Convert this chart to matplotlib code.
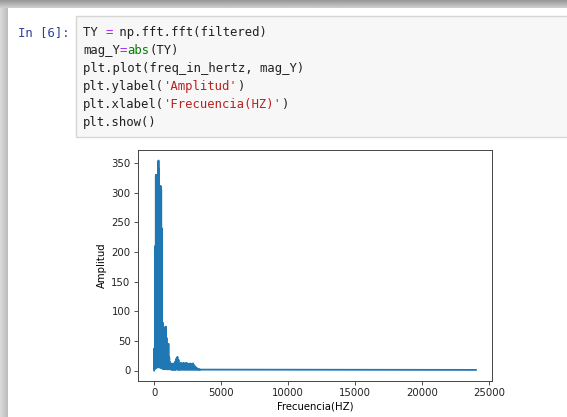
import numpy as np
import matplotlib
matplotlib.use("Agg")
import matplotlib.pyplot as plt
from matplotlib.patches import Rectangle

# espectro (pares alto/bajo para el relleno de la FFT)
freq_hz = [0, 10, 30, 50, 70, 90, 110, 130, 150, 170, 190, 210, 230, 250, 270,
           290, 310, 330, 350, 370, 390, 410, 430, 450, 470, 490, 510, 530, 550,
           570, 590, 610, 630, 650, 670, 690, 710, 730, 750, 770, 790, 810, 830,
           850, 870, 890, 910, 930, 950, 970, 990, 1010, 1040, 1070, 1100, 1130,
           1160, 1190, 1220, 1260, 1300, 1340, 1380, 1420, 1460, 1500, 1540, 1580,
           1620, 1660, 1700, 1740, 1780, 1820, 1860, 1900, 1950, 2000, 2050, 2100,
           2150, 2200, 2250, 2300, 2350, 2400, 2450, 2500, 2550, 2600, 2650, 2700,
           2750, 2800, 2850, 2900, 2950, 3000, 3050, 3100, 3150, 3200, 3250, 3300,
           3350, 3400, 3450, 3500, 24000]
mag_y = [0, 37, 2, 35, 3, 210, 4, 329, 5, 330, 5, 236, 6, 300, 5,
         352, 6, 354, 6, 340, 5, 311, 6, 310, 5, 311, 5, 305, 4,
         240, 4, 82, 3, 80, 3, 55, 3, 40, 3, 30, 3, 72, 3,
         74, 3, 73, 3, 55, 2, 42, 2, 38, 2, 45, 2, 22,
         2, 14, 2, 12, 1, 10, 1, 12, 1, 10, 1, 15,
         1, 20, 2, 23, 1, 18, 1, 10, 1, 13, 1, 12,
         1, 13, 1, 12, 1, 13, 1, 12, 1, 11, 1, 12,
         1, 11, 1, 12, 1, 9, 1, 6, 1, 4, 1, 3,
         1, 2, 1, 1.5, 1]

code_lines = [
    [("TY ", "#212121"), ("=", "#AA22FF"), (" np.fft.fft(filtered)", "#212121")],
    [("mag_Y", "#212121"), ("=", "#AA22FF"), ("abs", "#008000"), ("(TY)", "#212121")],
    [("plt.plot(freq_in_hertz, mag_Y)", "#212121")],
    [("plt.ylabel(", "#212121"), ("'Amplitud'", "#BA2121"), (")", "#212121")],
    [("plt.xlabel(", "#212121"), ("'Frecuencia(HZ)'", "#BA2121"), (")", "#212121")],
    [("plt.show()", "#212121")],
]

W, H = 567, 417
fig = plt.figure(figsize=(W / 100, H / 100), dpi=100)

# fondo: sombras de la captura y celda de codigo
bg = fig.add_axes([0, 0, 1, 1])
bg.axis('off')
bg.imshow(np.linspace(0.6, 0.8, 8)[:, None], extent=(0, W, 8, 0),
          cmap='gray', vmin=0, vmax=1, aspect='auto')
bg.imshow(np.linspace(0.85, 0.74, 8)[None, :], extent=(0, 8, H, 8),
          cmap='gray', vmin=0, vmax=1, aspect='auto')
bg.add_patch(Rectangle((76, 15.5), W, 121, facecolor='#f7f7f7',
                       edgecolor='#d6d6d6', lw=1))
bg.text(18, 32.3, "In [6]:", color='#303F9F', family='DejaVu Sans Mono',
        fontsize=8.8, va='center')

cw = 7.36
for i, line in enumerate(code_lines):
    col = 0
    for txt, c in line:
        bg.text(83 + col * cw, 32.3 + i * 18.0, txt, color=c,
                family='DejaVu Sans Mono', fontsize=8.8, va='center')
        col += len(txt)
bg.set_xlim(0, W)
bg.set_ylim(H, 0)

# grafica
ax = fig.add_axes([138 / W, (H - 381) / H, 354 / W, 231 / H])
ax.plot(freq_hz, mag_y, color='#1f77b4', lw=1.3)
ax.set_ylabel('Amplitud', fontsize=7.3, labelpad=3)
ax.set_xlabel('Frecuencia(HZ)', fontsize=7.3, labelpad=2)
ax.set_xticks([0, 5000, 10000, 15000, 20000, 25000])
ax.set_yticks(range(0, 351, 50))
ax.tick_params(labelsize=7.3, length=2.8, width=0.6, pad=2.5, colors='#333333',
               labelcolor='#222222')
for s in ax.spines.values():
    s.set_linewidth(0.7)
    s.set_color('#444444')

fig.savefig("out.png", dpi=100)
